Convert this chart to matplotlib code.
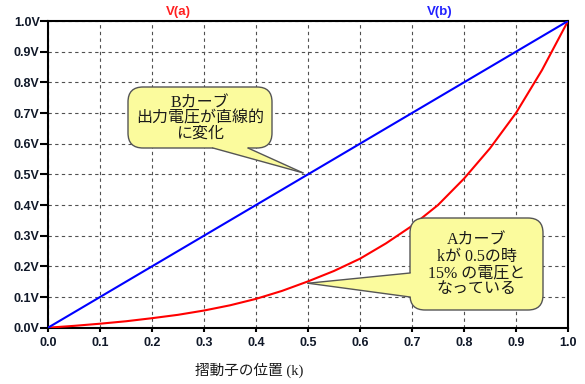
import numpy as np
import matplotlib.pyplot as plt
from matplotlib.patches import FancyBboxPatch, Polygon
from matplotlib.transforms import IdentityTransform

# Data
k = [0.0, 0.05, 0.1, 0.15, 0.2, 0.25, 0.3, 0.35, 0.4, 0.45, 0.5,
     0.55, 0.6, 0.65, 0.7, 0.75, 0.8, 0.85, 0.9, 0.95, 1.0]
v_a = [0.0, 0.006, 0.013, 0.021, 0.031, 0.042, 0.056, 0.073, 0.094, 0.12, 0.151,
       0.185, 0.225, 0.275, 0.332, 0.40, 0.486, 0.585, 0.70, 0.84, 1.0]
v_b = [0.0, 0.05, 0.1, 0.15, 0.2, 0.25, 0.3, 0.35, 0.4, 0.45, 0.5,
       0.55, 0.6, 0.65, 0.7, 0.75, 0.8, 0.85, 0.9, 0.95, 1.0]
ticks = [0.0, 0.1, 0.2, 0.3, 0.4, 0.5, 0.6, 0.7, 0.8, 0.9, 1.0]
xtick_labels = ['0.0', '0.1', '0.2', '0.3', '0.4', '0.5', '0.6', '0.7', '0.8', '0.9', '1.0']
ytick_labels = ['0.0V', '0.1V', '0.2V', '0.3V', '0.4V', '0.5V', '0.6V', '0.7V', '0.8V', '0.9V', '1.0V']

W, H = 585, 384
fig = plt.figure(figsize=(W / 100, H / 100), dpi=100)
ax = fig.add_axes([48 / W, 1 - 327.7 / H, 520 / W, 306.7 / H])

ax.plot(k, v_a, color='#ff0000', lw=1.5, zorder=3)
ax.plot(k, v_b, color='#0000ff', lw=1.5, zorder=3)

ax.set_xlim(0, 1)
ax.set_ylim(0, 1)
ax.set_xticks(ticks)
ax.set_yticks(ticks)
ax.set_xticklabels(xtick_labels)
ax.set_yticklabels(ytick_labels)
for lab in ax.get_xticklabels() + ax.get_yticklabels():
    lab.set_fontfamily('Liberation Sans')
    lab.set_fontweight('bold')
    lab.set_fontsize(9)
    lab.set_color('#101828')
ax.tick_params(axis='x', direction='out', length=3, width=1.5, pad=4)
ax.tick_params(axis='y', direction='out', length=6, width=1.5, pad=0)
ax.grid(True, color='#505050', lw=0.8, ls=(0, (3, 3)))
for s in ax.spines.values():
    s.set_linewidth(1.5)
    s.set_color('black')

# Trace names
fig.text(178 / W, 1 - 12 / H, 'V(a)', color='#ff2020', fontweight='bold',
         fontsize=9.5, family='Liberation Sans', ha='center', va='center')
fig.text(440 / W, 1 - 12 / H, 'V(b)', color='#2020ff', fontweight='bold',
         fontsize=9.5, family='Liberation Sans', ha='center', va='center')

# X label
fig.text(195 / W, 1 - 370 / H, '摺動子の位置 (k)', fontsize=10.5,
         family=['Liberation Serif', 'Noto Sans CJK JP'], ha='left', va='center',
         color='#1a1a1a')

ident = IdentityTransform()
box_fc = '#fbfb9d'
box_ec = '#555555'


def callout(box, base1, base2, inner, tip, text, spacing):
    # box: (x0, y0, x1, y1) pixels with y from top
    x0, y0, x1, y1 = box
    patch = FancyBboxPatch((x0, H - y1), x1 - x0, y1 - y0,
                           boxstyle='round,pad=0,rounding_size=15',
                           fc=box_fc, ec=box_ec, lw=1.0,
                           transform=ident, zorder=5, clip_on=False)
    ax.add_patch(patch)
    tx, ty = ax.transData.transform(tip)
    pts = [(base1[0], H - base1[1]), (inner[0][0], H - inner[0][1]),
           (inner[1][0], H - inner[1][1]), (base2[0], H - base2[1]), (tx, ty)]
    wedge = Polygon(pts, closed=True, fc=box_fc, ec='none',
                    transform=ident, zorder=6, clip_on=False)
    ax.add_patch(wedge)
    for b in (base1, base2):
        ax.plot([b[0], tx], [H - b[1], ty], color=box_ec, lw=1.0,
                transform=ident, zorder=7, clip_on=False)
    ax.text((x0 + x1) / 2, H - (y0 + y1) / 2 - 1, text, transform=ident,
            ha='center', va='center', fontsize=11.5, linespacing=spacing,
            family=['Liberation Serif', 'Noto Sans CJK JP'], color='#1a1a1a',
            zorder=8)


callout((128, 87, 272, 148), (213, 148), (248, 148),
        [(213, 144), (248, 144)], (0.49, 0.505),
        'Bカーブ\n出力電圧が直線的\nに変化', 0.95)
callout((410, 218, 543, 310), (410, 273), (410, 297),
        [(414, 273), (414, 297)], (0.5, 0.145),
        'Aカーブ\nkが 0.5の時\n15% の電圧と\nなっている', 1.0)

fig.savefig('out.png', dpi=100)
